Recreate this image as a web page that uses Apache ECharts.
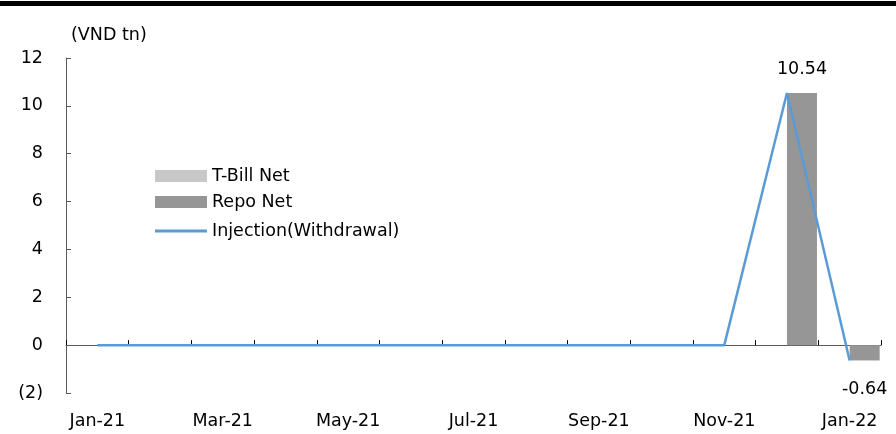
<!DOCTYPE html>
<html>
<head>
<meta charset="utf-8">
<script src="https://cdn.jsdelivr.net/npm/echarts@6/dist/echarts.min.js"></script>
<style>
  html, body { margin: 0; padding: 0; background: #fff; }
  #chart { width: 896px; height: 434px; }
</style>
</head>
<body>
<div id="chart"></div>
<script>
// data
const months = ['Jan-21', 'Feb-21', 'Mar-21', 'Apr-21', 'May-21', 'Jun-21', 'Jul-21',
  'Aug-21', 'Sep-21', 'Oct-21', 'Nov-21', 'Dec-21', 'Jan-22'];
const tbillNet = [0, 0, 0, 0, 0, 0, 0, 0, 0, 0, 0, 0, 0];
const repoNet = [0, 0, 0, 0, 0, 0, 0, 0, 0, 0, 0, 10.54, -0.64];
const injection = [0, 0, 0, 0, 0, 0, 0, 0, 0, 0, 0, 10.54, -0.64];

const FONT = 'DejaVu Sans';
const FS = 17.5;
const chart = echarts.init(document.getElementById('chart'));

// labels only on non-zero repo bars, below when negative
const repoData = repoNet.map(v => ({
  value: v,
  label: {
    show: v !== 0,
    position: v < 0 ? 'bottom' : 'top',
    distance: v < 0 ? 20 : 14
  }
}));

const legendText = { fontSize: FS, color: '#000', fontFamily: FONT };

const option = {
  animation: false,
  textStyle: { fontFamily: FONT },
  grid: { left: 66, right: 15, top: 58, bottom: 41 },
  graphic: [
    { type: 'rect', shape: { x: 0, y: 1, width: 896, height: 5 }, style: { fill: '#000' } },
    { type: 'text', left: 71, top: 26,
      style: { text: '(VND tn)', fontSize: FS, fontFamily: FONT, fill: '#000' } }
  ],
  legend: [
    {
      orient: 'vertical',
      left: 150,
      top: 162,
      itemWidth: 52,
      itemHeight: 12,
      itemGap: 8,
      textStyle: legendText,
      data: [
        { name: 'T-Bill Net', icon: 'rect' },
        { name: 'Repo Net', icon: 'rect' }
      ]
    },
    {
      left: 150,
      top: 217,
      itemWidth: 52,
      itemHeight: 3,
      textStyle: legendText,
      data: [{ name: 'Injection(Withdrawal)', icon: 'rect' }]
    }
  ],
  xAxis: [
    {
      type: 'category',
      data: months,
      position: 'bottom',
      axisLine: { show: false, onZero: false },
      axisTick: { show: false },
      axisLabel: { interval: 1, fontSize: FS, color: '#000', margin: 19, fontFamily: FONT }
    },
    {
      type: 'category',
      data: months,
      position: 'bottom',
      axisLine: { show: true, onZero: true, lineStyle: { color: '#595959', width: 1 } },
      axisTick: { show: true, inside: true, length: 5, interval: 0, lineStyle: { color: '#000' } },
      axisLabel: { show: false }
    }
  ],
  yAxis: {
    type: 'value',
    min: -2,
    max: 12,
    interval: 2,
    splitLine: { show: false },
    axisLine: { show: true, lineStyle: { color: '#595959' } },
    axisTick: { show: true, inside: true, length: 5, lineStyle: { color: '#595959' } },
    axisLabel: {
      fontSize: FS, color: '#000', margin: 23, fontFamily: FONT,
      formatter: v => (v < 0 ? '(' + (-v) + ')' : String(v))
    }
  },
  series: [
    {
      name: 'T-Bill Net',
      type: 'bar',
      xAxisIndex: 0,
      data: tbillNet,
      barWidth: 30,
      barGap: '0%',
      itemStyle: { color: '#c8c8c8' }
    },
    {
      name: 'Repo Net',
      type: 'bar',
      xAxisIndex: 0,
      data: repoData,
      barWidth: 30,
      barGap: '0%',
      itemStyle: { color: '#969696' },
      label: { fontSize: FS, color: '#000', fontFamily: FONT, formatter: p => p.value.toFixed(2) }
    },
    {
      name: 'Injection(Withdrawal)',
      type: 'line',
      xAxisIndex: 0,
      data: injection,
      symbol: 'none',
      z: 5,
      lineStyle: { color: '#5b9bd5', width: 2.5 },
      itemStyle: { color: '#5b9bd5' }
    }
  ]
};

chart.setOption(option);
</script>
</body>
</html>
